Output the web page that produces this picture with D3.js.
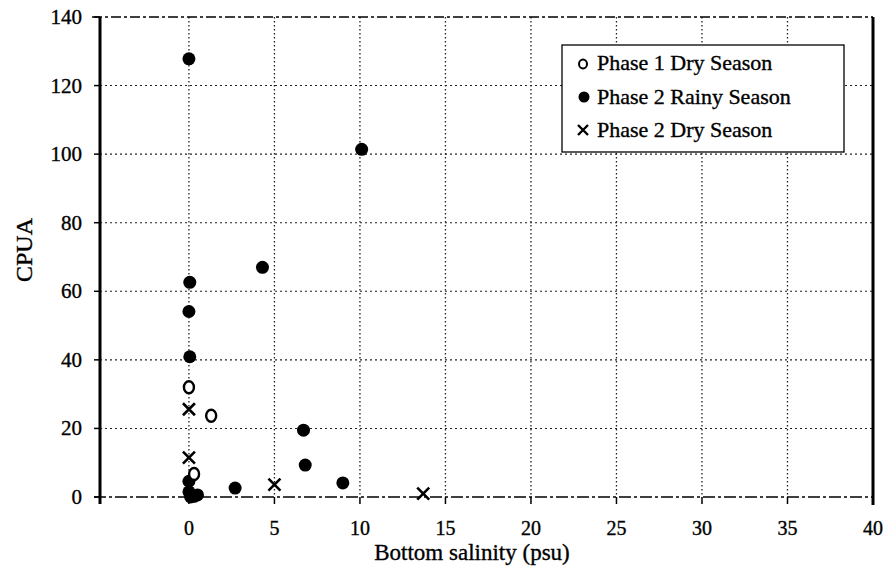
<!DOCTYPE html>
<html>
<head>
<meta charset="utf-8">
<script src="https://cdn.jsdelivr.net/npm/d3@7"></script>
<style>
  body { margin: 0; background: #fff; }
  text { font-family: "Liberation Serif", "Times New Roman", serif; fill: #000; stroke: #000; stroke-width: 0.35; }
</style>
</head>
<body>
<svg id="chart" width="887" height="575"></svg>
<script>
// data
const p1DrySalinity = [0, 1.3, 0.3];
const p1DryCpua = [32, 23.7, 6.7];

const p2RainySalinity = [0, 10.1, 4.3, 0.05, 0, 0.05, 6.7, 6.8, 9.0, 2.7, 0, 0, 0.5, 0.1, 0.3];
const p2RainyCpua = [127.8, 101.4, 67, 62.6, 54.1, 40.9, 19.5, 9.3, 4.1, 2.6, 4.6, 1.5, 0.6, 0, 0.2];

const p2DrySalinity = [0, 0, 5, 13.7];
const p2DryCpua = [25.6, 11.5, 3.6, 1];

const xTicks = [0, 5, 10, 15, 20, 25, 30, 35, 40];
const yTicks = [0, 20, 40, 60, 80, 100, 120, 140];
const legendLabels = ["Phase 1 Dry Season", "Phase 2 Rainy Season", "Phase 2 Dry Season"];

const FONT = "'Liberation Serif', 'Times New Roman', serif";

const svg = d3.select("#chart");
const margin = {top: 17, right: 14, bottom: 78, left: 100};
const W = 887, H = 575;

const x = d3.scaleLinear().domain([-5.2, 40]).range([margin.left, W - margin.right]);
const y = d3.scaleLinear().domain([0, 140]).range([H - margin.bottom, margin.top]);

// gridlines
const grid = svg.append("g").attr("class", "grid");
grid.selectAll("line.v")
    .data(xTicks.filter(t => t < 40))
    .enter().append("line")
    .attr("x1", d => x(d)).attr("x2", d => x(d))
    .attr("y1", y(140)).attr("y2", y(0))
    .attr("stroke", "#222").attr("stroke-width", 1.3)
    .attr("stroke-dasharray", "1.5,2.5");
grid.selectAll("line.h")
    .data(yTicks.filter(t => t > 0 && t < 140))
    .enter().append("line")
    .attr("x1", x.range()[0]).attr("x2", x.range()[1])
    .attr("y1", d => y(d)).attr("y2", d => y(d))
    .attr("stroke", "#222").attr("stroke-width", 1.1)
    .attr("stroke-dasharray", "2,3");

// top border (dashed) and bottom axis line
svg.append("line")
    .attr("x1", x.range()[0] - 8).attr("x2", x.range()[1])
    .attr("y1", y(140)).attr("y2", y(140))
    .attr("stroke", "#000").attr("stroke-width", 1.3)
    .attr("stroke-dasharray", "10,3,3,3");
svg.append("line")
    .attr("x1", x.range()[0] - 6).attr("x2", x.range()[1])
    .attr("y1", y(0)).attr("y2", y(0))
    .attr("stroke", "#000").attr("stroke-width", 1.5)
    .attr("stroke-dasharray", "12,3,3,3");

// left axis and right frame
svg.append("line")
    .attr("x1", x.range()[0]).attr("x2", x.range()[0])
    .attr("y1", y(140)).attr("y2", y(0) + 7)
    .attr("stroke", "#000").attr("stroke-width", 3);
svg.append("line")
    .attr("x1", x.range()[1]).attr("x2", x.range()[1])
    .attr("y1", y(140)).attr("y2", y(0) + 8)
    .attr("stroke", "#000").attr("stroke-width", 3);

// y ticks
const yAxis = svg.append("g");
yAxis.selectAll("line")
    .data(yTicks)
    .enter().append("line")
    .attr("x1", x.range()[0] - 6).attr("x2", x.range()[0])
    .attr("y1", d => y(d)).attr("y2", d => y(d))
    .attr("stroke", "#000").attr("stroke-width", 1.5);
yAxis.selectAll("text")
    .data(yTicks)
    .enter().append("text")
    .attr("x", 82).attr("y", d => y(d) + 7)
    .attr("text-anchor", "end")
    .attr("font-family", FONT)
    .attr("font-size", 21)
    .text(d => d);

// x ticks
const xAxis = svg.append("g");
xAxis.selectAll("line")
    .data(xTicks)
    .enter().append("line")
    .attr("x1", d => x(d)).attr("x2", d => x(d))
    .attr("y1", y(0)).attr("y2", y(0) + 7)
    .attr("stroke", "#000").attr("stroke-width", 1.5);
xAxis.selectAll("text")
    .data(xTicks)
    .enter().append("text")
    .attr("x", d => x(d)).attr("y", 535)
    .attr("text-anchor", "middle")
    .attr("font-family", FONT)
    .attr("font-size", 20)
    .text(d => d);

// axis titles
svg.append("text")
    .attr("x", 472).attr("y", 560)
    .attr("text-anchor", "middle")
    .attr("font-family", FONT)
    .attr("font-size", 23)
    .text("Bottom salinity (psu)");
svg.append("text")
    .attr("transform", "translate(32,250) rotate(-90)")
    .attr("text-anchor", "middle")
    .attr("font-family", FONT)
    .attr("font-size", 24)
    .text("CPUA");

// points
const pts = svg.append("g");
pts.selectAll("circle.rainy")
    .data(d3.zip(p2RainySalinity, p2RainyCpua))
    .enter().append("circle")
    .attr("cx", d => x(d[0])).attr("cy", d => y(d[1]))
    .attr("r", 6.5).attr("fill", "#000");
pts.selectAll("ellipse.p1")
    .data(d3.zip(p1DrySalinity, p1DryCpua))
    .enter().append("ellipse")
    .attr("cx", d => x(d[0])).attr("cy", d => y(d[1]))
    .attr("rx", 5).attr("ry", 6)
    .attr("fill", "#fff").attr("stroke", "#000").attr("stroke-width", 2.4);
pts.selectAll("path.p2dry")
    .data(d3.zip(p2DrySalinity, p2DryCpua))
    .enter().append("path")
    .attr("d", d => {
        const cx = x(d[0]), cy = y(d[1]), s = 6;
        return `M${cx - s},${cy - s}L${cx + s},${cy + s}M${cx + s},${cy - s}L${cx - s},${cy + s}`;
    })
    .attr("stroke", "#000").attr("stroke-width", 2.6).attr("fill", "none");

// legend
const legend = svg.append("g");
legend.append("rect")
    .attr("x", 562).attr("y", 45).attr("width", 282).attr("height", 107)
    .attr("fill", "#fff").attr("stroke", "#000").attr("stroke-width", 1.3);
const rowY = [63, 97, 130];
legend.append("ellipse")
    .attr("cx", 583).attr("cy", rowY[0] + 1).attr("rx", 4).attr("ry", 4.5)
    .attr("fill", "#fff").attr("stroke", "#000").attr("stroke-width", 2);
legend.append("circle")
    .attr("cx", 584).attr("cy", rowY[1]).attr("r", 5.5).attr("fill", "#000");
legend.append("path")
    .attr("d", `M578,${rowY[2] - 5}L588,${rowY[2] + 5}M588,${rowY[2] - 5}L578,${rowY[2] + 5}`)
    .attr("stroke", "#000").attr("stroke-width", 2.4);
legend.selectAll("text")
    .data(legendLabels)
    .enter().append("text")
    .attr("x", 597).attr("y", (d, i) => rowY[i] + 7)
    .attr("font-family", FONT)
    .attr("font-size", 22)
    .text(d => d);
</script>
</body>
</html>
